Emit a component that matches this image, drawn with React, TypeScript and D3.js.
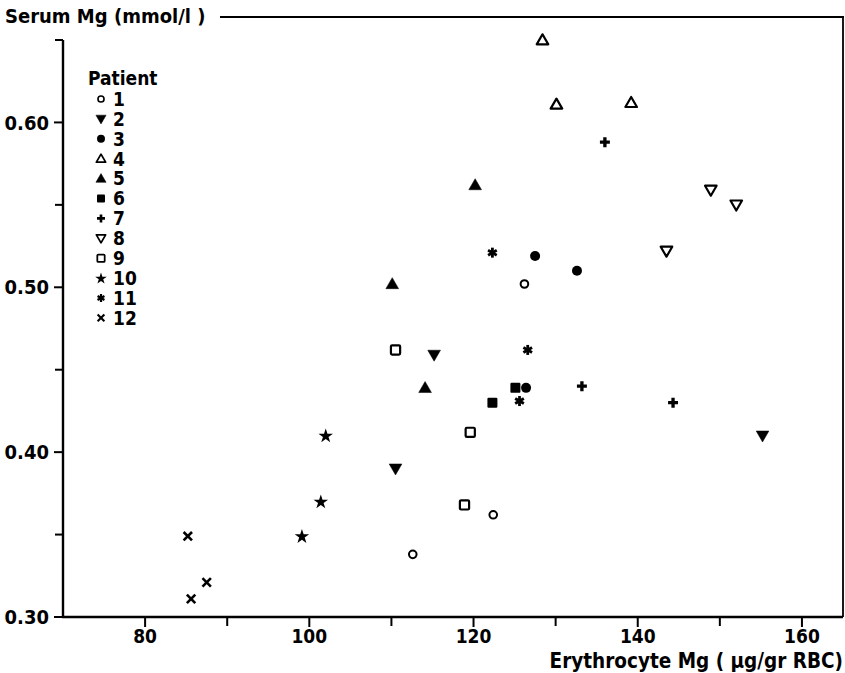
import React from "react";
import * as d3 from "d3";

const patients = ["1", "2", "3", "4", "5", "6", "7", "8", "9", "10", "11", "12"];
const shapes = ["circleOpen", "triDownFilled", "circleFilled", "triUpOpen", "triUpFilled", "squareFilled", "plus", "triDownOpen", "squareOpen", "star", "asterisk", "times"];

const p1X = [126.2, 122.4, 112.6];
const p1Y = [0.502, 0.362, 0.338];
const p2X = [115.2, 110.5, 155.2];
const p2Y = [0.459, 0.39, 0.41];
const p3X = [127.5, 132.6, 126.4];
const p3Y = [0.519, 0.51, 0.439];
const p4X = [128.4, 130.1, 139.2];
const p4Y = [0.65, 0.611, 0.612];
const p5X = [120.2, 110.1, 114.1];
const p5Y = [0.562, 0.502, 0.439];
const p6X = [125.1, 122.3];
const p6Y = [0.439, 0.43];
const p7X = [136.0, 133.2, 144.3];
const p7Y = [0.588, 0.44, 0.43];
const p8X = [143.5, 148.9, 152.0];
const p8Y = [0.522, 0.559, 0.55];
const p9X = [110.5, 119.6, 118.9];
const p9Y = [0.462, 0.412, 0.368];
const p10X = [102.0, 101.4, 99.1];
const p10Y = [0.41, 0.37, 0.349];
const p11X = [122.3, 126.6, 125.6];
const p11Y = [0.521, 0.462, 0.431];
const p12X = [85.2, 85.6, 87.5];
const p12Y = [0.349, 0.311, 0.321];

const seriesX = [p1X, p2X, p3X, p4X, p5X, p6X, p7X, p8X, p9X, p10X, p11X, p12X];
const seriesY = [p1Y, p2Y, p3Y, p4Y, p5Y, p6Y, p7Y, p8Y, p9Y, p10Y, p11Y, p12Y];

const xMajorTicks = [80, 100, 120, 140, 160];
const xMinorTicks = [90, 110, 130, 150];
const yMajorTicks = [0.3, 0.4, 0.5, 0.6];
const yMinorTicks = [0.35, 0.45, 0.55, 0.65];

const xTitle = "Erythrocyte Mg ( µg/gr RBC)";
const yTitle = "Serum Mg (mmol/l )";
const legendTitle = "Patient";

const FONT = "'DejaVu Sans Condensed', 'DejaVu Sans', sans-serif";

function Marker({ shape, cx, cy, s }: { shape: string; cx: number; cy: number; s: number }) {
  const k = s;
  const black = "#000";
  switch (shape) {
    case "circleOpen":
      return <circle cx={cx} cy={cy} r={3.8 * k} fill="#fff" stroke={black} strokeWidth={2 * k} />;
    case "circleFilled":
      return <circle cx={cx} cy={cy} r={5 * k} fill={black} />;
    case "triUpOpen":
    case "triUpFilled":
    case "triDownOpen":
    case "triDownFilled": {
      const open = shape.endsWith("Open");
      const path = d3.symbol().type(d3.symbolTriangle).size((open ? 58 : 70) * k * k)();
      const down = shape.startsWith("triDown");
      return (
        <path
          d={path || ""}
          transform={`translate(${cx},${cy + (down ? -1 : 1) * k}) rotate(${down ? 180 : 0})`}
          fill={open ? "#fff" : black}
          stroke={black}
          strokeWidth={open ? 2.2 * k : 0.5}
          strokeLinejoin="round"
        />
      );
    }
    case "squareFilled":
      return <rect x={cx - 5 * k} y={cy - 5 * k} width={10 * k} height={10 * k} rx={1.2 * k} fill={black} />;
    case "squareOpen":
      return <rect x={cx - 4.6 * k} y={cy - 4.6 * k} width={9.2 * k} height={9.2 * k} rx={1.2 * k} fill="#fff" stroke={black} strokeWidth={2.2 * k} />;
    case "plus": {
      const p = d3.symbol().type(d3.symbolCross).size(55 * k * k)();
      return <path d={p || ""} transform={`translate(${cx},${cy})`} fill={black} />;
    }
    case "star": {
      const p = d3.symbol().type(d3.symbolStar).size(65 * k * k)();
      return <path d={p || ""} transform={`translate(${cx},${cy + 0.5})`} fill={black} />;
    }
    case "asterisk": {
      const r = 5 * k;
      const lines = [0, 60, 120].map((a) => {
        const rad = (a * Math.PI) / 180 + Math.PI / 2;
        return (
          <line
            key={a}
            x1={cx - r * Math.cos(rad)}
            y1={cy - r * Math.sin(rad)}
            x2={cx + r * Math.cos(rad)}
            y2={cy + r * Math.sin(rad)}
            stroke={black}
            strokeWidth={2.8 * k}
          />
        );
      });
      return <g>{lines}</g>;
    }
    case "times": {
      const r = 4.2 * k;
      return (
        <g stroke={black} strokeWidth={2.6 * k}>
          <line x1={cx - r} y1={cy - r} x2={cx + r} y2={cy + r} />
          <line x1={cx - r} y1={cy + r} x2={cx + r} y2={cy - r} />
        </g>
      );
    }
    default:
      return null;
  }
}

export default function App() {
  const width = 845;
  const height = 673;
  const left = 63;
  const right = 843;
  const top = 40;
  const bottom = 617;

  const x = d3.scaleLinear().domain([70, 165]).range([left, right]);
  const y = d3.scaleLinear().domain([0.3, 0.65]).range([bottom, top]);

  const legendX = 101;
  const legendY0 = 99;
  const legendStep = 19.9;

  return (
    <svg
      width={width}
      height={height}
      style={{ position: "absolute", left: 0, top: 0, background: "#fff" }}
      fontFamily={FONT}
    >
      <rect x={0} y={0} width={width} height={height} fill="#fff" />
      {/* frame */}
      <line x1={left} y1={top} x2={left} y2={bottom + 1} stroke="#000" strokeWidth={2.4} />
      <line x1={left - 1} y1={bottom} x2={right} y2={bottom} stroke="#000" strokeWidth={2.6} />
      <line x1={right} y1={17} x2={right} y2={bottom} stroke="#000" strokeWidth={1.8} />
      <line x1={220} y1={17} x2={right + 1} y2={17} stroke="#000" strokeWidth={1.8} />

      {/* y ticks */}
      {yMajorTicks.map((t) => (
        <g key={"ym" + t}>
          <line x1={left - 9} x2={left} y1={y(t)} y2={y(t)} stroke="#000" strokeWidth={2} />
          <text x={left - 14} y={y(t)} dy="0.36em" textAnchor="end" fontSize={20} fontWeight="bold">
            {d3.format(".2f")(t)}
          </text>
        </g>
      ))}
      {yMinorTicks.map((t) => (
        <line key={"yn" + t} x1={left - 8} x2={left} y1={y(t)} y2={y(t)} stroke="#000" strokeWidth={2} />
      ))}

      {/* x ticks */}
      {xMajorTicks.map((t) => (
        <g key={"xm" + t}>
          <line x1={x(t)} x2={x(t)} y1={bottom} y2={bottom + 10} stroke="#000" strokeWidth={2} />
          <text x={x(t)} y={636} dy="0.36em" textAnchor="middle" fontSize={19} fontWeight="bold">
            {t}
          </text>
        </g>
      ))}
      {xMinorTicks.map((t) => (
        <line key={"xn" + t} x1={x(t)} x2={x(t)} y1={bottom} y2={bottom + 9} stroke="#000" strokeWidth={2} />
      ))}

      {/* titles */}
      <text x={5} y={16} dy="0.36em" fontSize={20} fontWeight="bold">
        {yTitle}
      </text>
      <text x={right} y={661} dy="0.36em" textAnchor="end" fontSize={20.5} fontWeight="bold">
        {xTitle}
      </text>

      {/* legend */}
      <text x={88} y={78} dy="0.36em" fontSize={19} fontWeight="bold">
        {legendTitle}
      </text>
      {patients.map((p, i) => (
        <g key={"lg" + p}>
          <Marker shape={shapes[i]} cx={legendX} cy={legendY0 + i * legendStep} s={0.8} />
          <text x={legendX + 12} y={legendY0 + i * legendStep} dy="0.36em" fontSize={19} fontWeight="bold">
            {p}
          </text>
        </g>
      ))}

      {/* points */}
      {seriesX.map((xs, i) =>
        xs.map((xv, j) => (
          <Marker key={`pt${i}-${j}`} shape={shapes[i]} cx={x(xv)} cy={y(seriesY[i][j])} s={1} />
        ))
      )}
    </svg>
  );
}
